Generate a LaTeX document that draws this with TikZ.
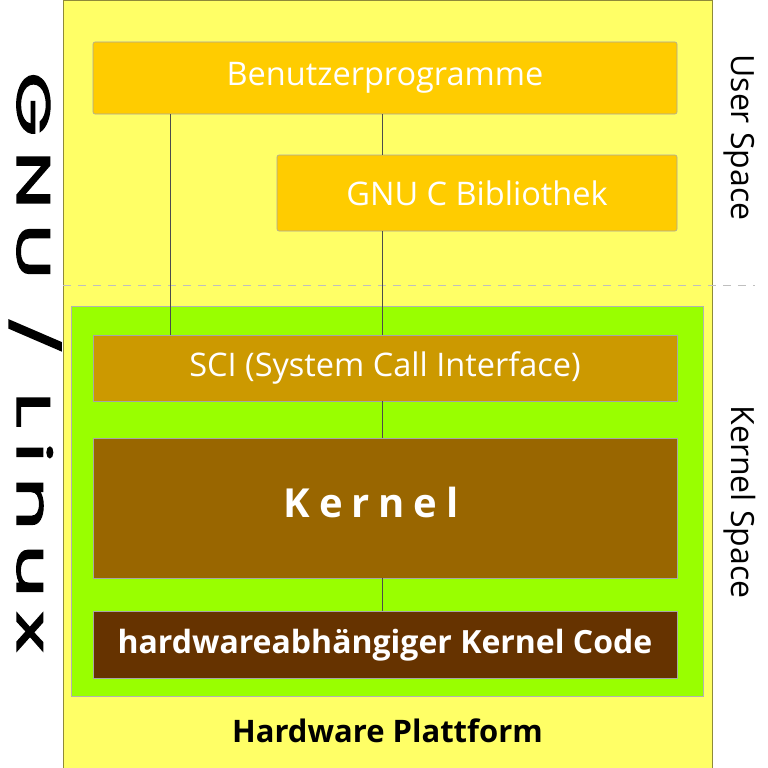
\documentclass[tikz,border=0pt]{standalone}
\usepackage{fontspec}
\setmainfont{Open Sans}
\newfontfamily\gnufont[LetterSpace=18,FakeBold=2.5]{Poppins}
\newfontfamily\spacedfont[LetterSpace=22]{Open Sans}
\usetikzlibrary{positioning}
\definecolor{userbg}{HTML}{FFFF66}
\definecolor{libbox}{HTML}{FFCC00}
\definecolor{kernbg}{HTML}{99FF00}
\definecolor{scibox}{HTML}{CC9900}
\definecolor{kernbox}{HTML}{996600}
\definecolor{hwbox}{HTML}{663300}
\tikzstyle{layer}=[rectangle,draw=black!35,line width=0.6pt,inner sep=0pt,text=white]
\tikzstyle{userbox}=[layer,fill=libbox,rounded corners=2pt,minimum height=72pt,font=\fontsize{32.5}{32.5}\selectfont]
\tikzstyle{kernelbox}=[layer,minimum width=584pt]
\tikzstyle{link}=[draw,line width=0.7pt,black!70]
\tikzstyle{side}=[rotate=-90,anchor=base,font=\fontsize{32}{32}\selectfont]

\begin{document}
\begin{tikzpicture}[x=1pt,y=-1pt]
    \useasboundingbox (0,0) rectangle (768,768);

    % background and the dashed border between the two spaces
    \node[rectangle,draw=olive!60!gray,fill=userbg,minimum width=649pt,minimum height=768pt,inner sep=0pt] (bg) at (387.5,384.5) {};
    \coordinate (dashl) at (63,285);
    \coordinate (dashr) at (755,285);
    \path[draw,black!25,line width=0.8pt,dash pattern=on 8pt off 7pt] (dashl) -- (dashr);

    \node[userbox,minimum width=584pt] (apps) at (385,78) {Benutzerprogramme};
    \node[userbox,minimum width=400pt,minimum height=76pt] (glibc) at (477,193) {GNU C Bibliothek};

    \node[rectangle,draw=black!30,fill=kernbg,minimum width=632pt,minimum height=390pt,inner sep=0pt] (kspace) at (387,501.5) {};
    \node[kernelbox,fill=scibox,minimum height=66pt,font=\fontsize{32.5}{32.5}\selectfont] (sci) at (385,368) {SCI (System Call Interface)};
    \node[kernelbox,fill=kernbox,minimum height=140pt,text depth=12pt,font=\spacedfont\bfseries\fontsize{40}{40}\selectfont] (kern) at (385,508) {\hspace*{-28pt}Kernel};
    \node[kernelbox,fill=hwbox,minimum height=67pt,font=\bfseries\fontsize{32}{32}\selectfont] (hwdep) at (385,645) {hardwareabhängiger Kernel Code};

    % connectors
    \coordinate (c1) at (170,0);
    \coordinate (c2) at (382,0);
    \path[link] (apps.south -| c1) -- (sci.north -| c1);
    \foreach \source/\dest in {apps/glibc, glibc/sci, sci/kern, kern/hwdep}
        \path[link] (\source.south -| c2) -- (\dest.north -| c2);

    \node[anchor=base,font=\bfseries\fontsize{31}{31}\selectfont] (hw) at (387.5,742) {Hardware Plattform};
    \node[side] (user) at (731,137.5) {User Space};
    \node[side] (kernlbl) at (731,502) {Kernel Space};
    \node[rotate=-90,anchor=base,inner sep=0pt] (gnu) at (17,362) {\scalebox{1.75}[1]{\fontsize{47}{47}\gnufont GNU / Linux}};
\end{tikzpicture}
\end{document}
